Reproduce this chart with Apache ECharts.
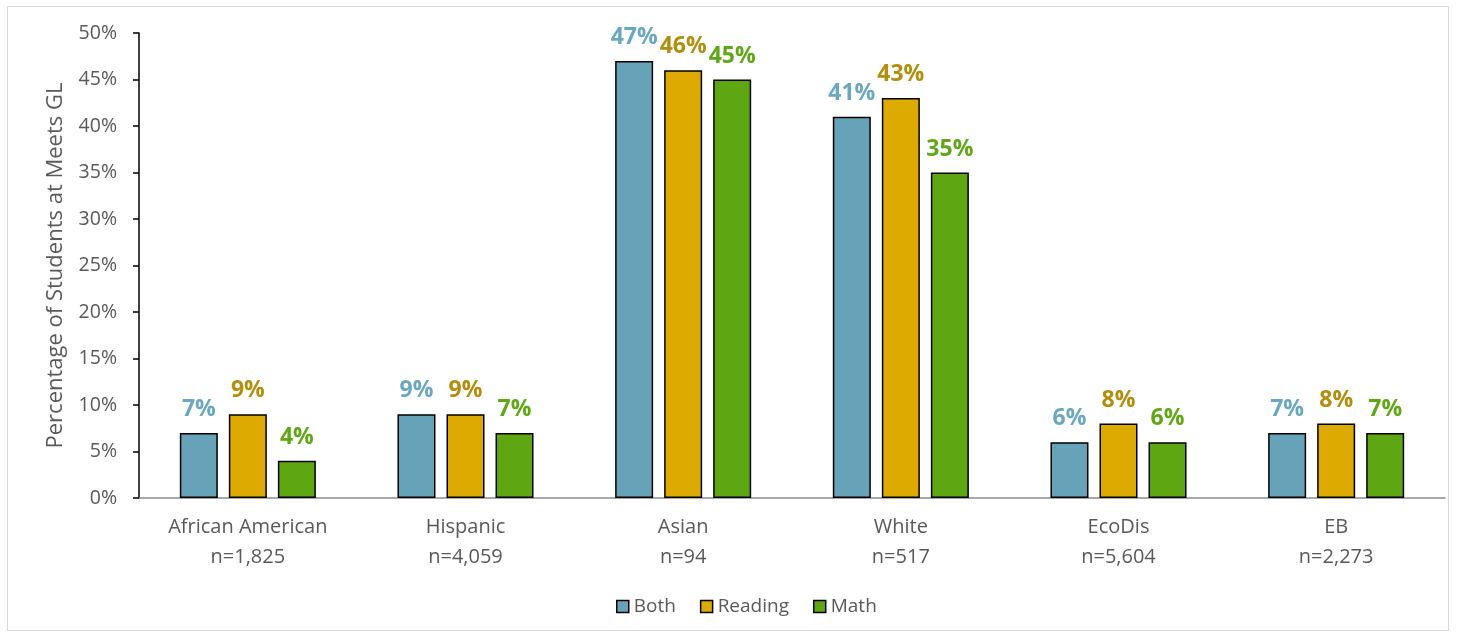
<!DOCTYPE html>
<html>
<head>
<meta charset="utf-8">
<script src="https://cdn.jsdelivr.net/npm/echarts@6/dist/echarts.min.js"></script>
<style>
  html, body { margin: 0; padding: 0; background: #fff; }
  #frame { position: absolute; left: 7px; top: 6px; width: 1442px; height: 625px; border: 1px solid #d9d9d9; box-sizing: border-box; }
  #chart { width: 1457px; height: 640px; }
</style>
</head>
<body>
<div id="frame"></div>
<div id="chart"></div>
<script>
// Student groups and their sizes
const groups = ['African American', 'Hispanic', 'Asian', 'White', 'EcoDis', 'EB'];
const groupSizes = ['1,825', '4,059', '94', '517', '5,604', '2,273'];

// Percent of students at Meets Grade Level
const both = [7, 9, 47, 41, 6, 7];
const reading = [9, 9, 46, 43, 8, 8];
const math = [4, 7, 45, 35, 6, 7];

const yTicks = [0, 5, 10, 15, 20, 25, 30, 35, 40, 45, 50];

const FONT = '"Open Sans", Lato, sans-serif';

const categories = groups.map((g, i) => g + '\nn=' + groupSizes[i]);

function barSeries(name, data, fill, labelColor) {
  return {
    name: name,
    type: 'bar',
    data: data,
    barWidth: 38,
    barGap: '29%',
    itemStyle: { color: fill, borderColor: '#000', borderWidth: 1.5 },
    label: {
      show: true,
      position: 'top',
      distance: 12,
      formatter: '{c}%',
      color: labelColor,
      fontFamily: FONT,
      fontWeight: 'bold',
      fontSize: 23
    }
  };
}

const chart = echarts.init(document.getElementById('chart'));
chart.setOption({
  animation: false,
  backgroundColor: 'transparent',
  grid: { left: 139, right: 12, top: 33, bottom: 142, containLabel: false },
  legend: {
    bottom: 19,
    left: 611,
    itemWidth: 12,
    itemHeight: 12,
    itemGap: 24,
    icon: 'rect',
    itemStyle: { borderColor: '#000', borderWidth: 1.5 },
    textStyle: { color: '#595959', fontSize: 19, fontFamily: FONT },
    data: ['Both', 'Reading', 'Math']
  },
  xAxis: {
    type: 'category',
    data: categories,
    axisLine: { lineStyle: { color: '#8c8c8c', width: 1.5 } },
    axisTick: { show: false },
    axisLabel: { color: '#595959', fontSize: 20, fontFamily: FONT, lineHeight: 30, margin: 14 }
  },
  yAxis: {
    type: 'value',
    min: 0,
    max: 50,
    interval: 5,
    name: 'Percentage of Students at Meets GL',
    nameLocation: 'middle',
    nameGap: 72,
    nameTextStyle: { color: '#595959', fontSize: 22, fontFamily: FONT },
    axisLine: { show: true, lineStyle: { color: '#000', width: 1.5 } },
    axisTick: { show: true, length: 6, lineStyle: { color: '#000', width: 1.5 } },
    splitLine: { show: false },
    axisLabel: {
      color: '#595959', fontSize: 19.5, fontFamily: FONT, margin: 22,
      formatter: v => (yTicks.indexOf(v) >= 0 ? v + '%' : '')
    }
  },
  series: [
    barSeries('Both', both, '#66a3b8', '#6aa7c1'),
    barSeries('Reading', reading, '#dcaa00', '#b38d0b'),
    barSeries('Math', math, '#5ea612', '#5ea815')
  ]
});
</script>
</body>
</html>
